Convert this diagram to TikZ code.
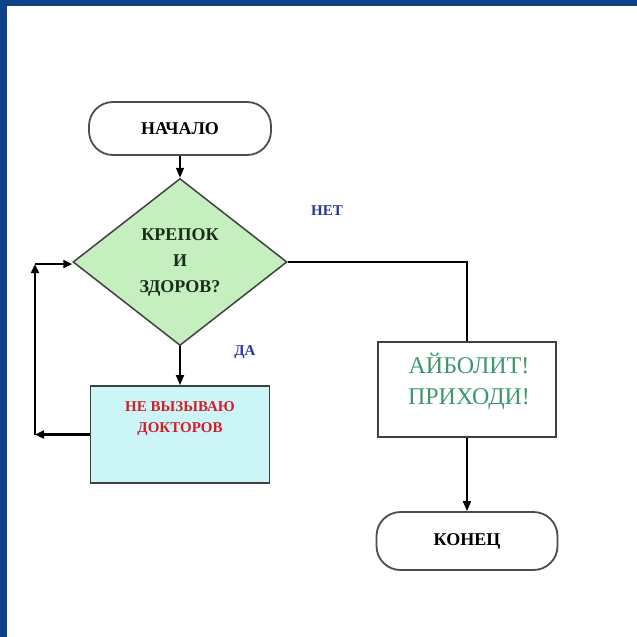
\documentclass[tikz,border=0pt]{standalone}
\usepackage{fontspec}
\setmainfont{Liberation Serif}
\usetikzlibrary{shapes.geometric, arrows.meta}

\definecolor{frameblue}{RGB}{14,66,136}
\definecolor{condgreen}{RGB}{198,239,192}
\definecolor{boxcyan}{RGB}{204,245,248}
\definecolor{labblue}{RGB}{40,55,150}
\definecolor{txtred}{RGB}{210,30,40}
\definecolor{txtgreen}{RGB}{60,150,110}
\definecolor{txtdark}{RGB}{25,45,25}

\begin{document}
\begin{tikzpicture}[x=1pt, y=-1pt,
    termstyle/.style={rectangle, rounded corners=24pt, draw=black!70, line width=1.8pt, fill=white, font=\fontsize{18}{22}\selectfont\bfseries},
    condstyle/.style={diamond, aspect=1.28, inner sep=0pt, draw=black!75, line width=1.5pt, fill=condgreen, minimum width=214pt, minimum height=167pt, align=center, text=txtdark, font=\fontsize{18}{26}\selectfont\bfseries},
    boxstyle/.style={rectangle, draw=black!75, line width=1.8pt},
    labstyle/.style={text=labblue, font=\fontsize{15}{18}\selectfont\bfseries},
    arr/.style={line width=1.8pt, -{Triangle[length=10pt,width=8pt]}},
    looparr/.style={line width=2.8pt, -{Triangle[length=9pt,width=8pt]}}]

        % blue frame round the slide
        \fill[frameblue] (0,0) rectangle (637,637);
        \fill[white] (7,6) rectangle (637,637);
        \useasboundingbox (0,0) rectangle (637,637);

        % the blocks
        \node[termstyle, minimum width=182pt, minimum height=53pt] (start) at (180,128.5) {НАЧАЛО};
        \node[condstyle] (cond) at (180,262) {КРЕПОК\\И\\ЗДОРОВ?};
        \node[boxstyle, fill=boxcyan, minimum width=179pt, minimum height=97pt] (ok) at (180,434.5) {};
        \node[text=txtred, align=center, font=\fontsize{15}{21}\selectfont\bfseries] (oktext) at (180,419) {НЕ ВЫЗЫВАЮ\\ДОКТОРОВ};
        \node[boxstyle, fill=white, minimum width=178pt, minimum height=95pt] (help) at (467,389.5) {};
        \node[text=txtgreen, align=center, font=\fontsize{24}{31}\selectfont] (helptext) at (469,381) {АЙБОЛИТ!\\ПРИХОДИ!};
        \node[termstyle, minimum width=181pt, minimum height=58pt] (stop) at (467,541) {КОНЕЦ};

        % answers
        \node[labstyle] (no) at (327,211) {НЕТ};
        \node[labstyle] (yes) at (245,352) {ДА};

        % connectors
        \draw[arr] (start.south) -- (cond.north);
        \draw[arr] (cond.south) -- (ok.north);
        \draw[line width=1.8pt] (cond.east) -| (help.north);
        \draw[arr] (help.south) -- (stop.north);

        % going round again
        \coordinate (lb) at (35,434.5);
        \coordinate (lt) at (35,264);
        \draw[looparr] (ok.west) -- (lb);
        \draw[looparr] (lb) -- (lt);
        \draw[looparr] (lt) -- (cond.west |- lt);

\end{tikzpicture}
\end{document}
